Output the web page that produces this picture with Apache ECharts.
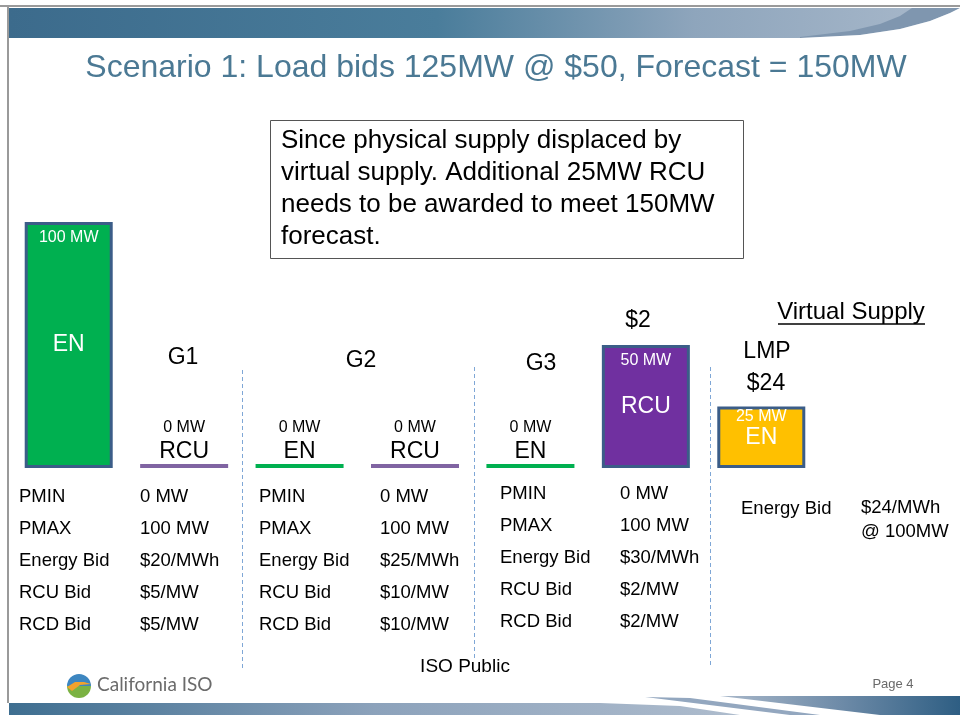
<!DOCTYPE html>
<html>
<head>
<meta charset="utf-8">
<script src="https://cdn.jsdelivr.net/npm/echarts@6/dist/echarts.min.js"></script>
<style>
  html, body { margin: 0; padding: 0; background: #fff; }
  #chart { width: 960px; height: 715px; }
</style>
</head>
<body>
<div id="chart"></div>
<script>
// awards per unit/product (MW)
const categories = ['G1 EN', 'G1 RCU', 'G2 EN', 'G2 RCU', 'G3 EN', 'G3 RCU', 'Virtual EN']
const products = ['EN', 'RCU', 'EN', 'RCU', 'EN', 'RCU', 'EN']
const awardsMW = [100, 0, 0, 0, 0, 50, 25]

const groupNames = ['G1', 'G2', 'G3']
const rowLabels = ['PMIN', 'PMAX', 'Energy Bid', 'RCU Bid', 'RCD Bid']
const g1Values = ['0 MW', '100 MW', '$20/MWh', '$5/MW', '$5/MW']
const g2Values = ['0 MW', '100 MW', '$25/MWh', '$10/MW', '$10/MW']
const g3Values = ['0 MW', '100 MW', '$30/MWh', '$2/MW', '$2/MW']
const virtualBid = ['Energy Bid', '$24/MWh', '@ 100MW']
const rcuPrice = '$2'
const lmpPrice = '$24'

const titleText = 'Scenario 1: Load bids 125MW @ $50, Forecast = 150MW'
const noteLines = [
  'Since physical supply displaced by',
  'virtual supply. Additional 25MW RCU',
  'needs to be awarded to meet 150MW',
  'forecast.'
]

const FONT = '"Liberation Sans", Arial, sans-serif'

function fillColor(i) {
  if (i === categories.length - 1) return '#FFC000'
  return products[i] === 'EN' ? '#00B050' : '#7030A0'
}
function lineColor(i) {
  return products[i] === 'EN' ? '#00B050' : '#8064A2'
}

const barData = awardsMW.map((v, i) => {
  if (v > 0) {
    return {
      value: v,
      itemStyle: { color: fillColor(i), borderColor: '#3B5D88', borderWidth: 3 },
      label: {
        show: true, position: 'insideTop', distance: v < 30 ? 2 : 8,
        formatter: v + ' MW', color: '#fff', fontSize: 16, fontFamily: FONT
      }
    }
  }
  return {
    value: v,
    itemStyle: { color: lineColor(i) },
    label: {
      show: true, position: 'top', distance: 0,
      formatter: '{a|' + v + ' MW}\n{b|' + products[i] + '}',
      rich: {
        a: { fontSize: 16, lineHeight: 22, color: '#000', fontFamily: FONT },
        b: { fontSize: 23, lineHeight: 25, color: '#000', fontFamily: FONT }
      }
    }
  }
})

const nameData = awardsMW.map((v, i) => ({
  value: v,
  label: {
    show: v > 0, position: 'inside', formatter: products[i],
    color: '#fff', fontSize: 23, fontFamily: FONT
  }
}))

function tableTexts(x1, x2, y0, values) {
  const out = []
  rowLabels.forEach((lab, r) => {
    out.push({ type: 'text', x: x1, y: y0 + r * 32,
      style: { text: lab, font: '18.5px ' + FONT, fill: '#000', verticalAlign: 'middle' } })
    out.push({ type: 'text', x: x2, y: y0 + r * 32,
      style: { text: values[r], font: '18.5px ' + FONT, fill: '#000', verticalAlign: 'middle' } })
  })
  return out
}

function dashed(x, y1, y2) {
  return { type: 'line', shape: { x1: x, y1: y1, x2: x, y2: y2 },
    style: { stroke: '#7FA7D6', lineWidth: 1, lineDash: [4, 3] }, silent: true }
}

function centerText(x, y, text, size, color) {
  return { type: 'text', x: x, y: y,
    style: { text: text, font: size + 'px ' + FONT, fill: color || '#000',
      align: 'center', verticalAlign: 'middle' } }
}

function leftText(x, y, text, size) {
  return { type: 'text', x: x, y: y,
    style: { text: text, font: size + 'px ' + FONT, fill: '#000', verticalAlign: 'middle' } }
}

const lowerCurve = [[800, 38], [860, 35], [900, 29], [930, 21], [950, 13], [960, 8]]
const upperCurve = [[800, 37], [850, 31], [880, 24], [900, 16], [912, 8]]

const graphics = [
  // slide frame and header band
  { type: 'line', shape: { x1: 0, y1: 6, x2: 960, y2: 6 }, style: { stroke: '#9a9a9a', lineWidth: 2 } },
  { type: 'line', shape: { x1: 8, y1: 6, x2: 8, y2: 703 }, style: { stroke: '#9a9a9a', lineWidth: 2 } },
  { type: 'rect', shape: { x: 9, y: 8, width: 951, height: 30 },
    style: { fill: new echarts.graphic.LinearGradient(0, 0, 1, 0, [
      { offset: 0, color: '#3C6B8C' }, { offset: 0.45, color: '#4A7D9B' },
      { offset: 0.72, color: '#8EA5BC' }, { offset: 1, color: '#A9B9CB' }]) } },
  { type: 'polygon', shape: { points: upperCurve.concat([[960, 8]], lowerCurve.slice().reverse()) },
    style: { fill: '#7F96AF' } },
  { type: 'polygon', shape: { points: lowerCurve.concat([[960, 38]]) },
    style: { fill: '#fff' } },
  // footer band
  { type: 'polygon', shape: { points: [[9, 703], [600, 703], [680, 706], [740, 715], [9, 715]] },
    style: { fill: new echarts.graphic.LinearGradient(0, 0, 1, 0, [
      { offset: 0, color: '#3E6E90' }, { offset: 0.5, color: '#8CA2BB' }, { offset: 1, color: '#AEBCCD' }]) } },
  { type: 'polygon', shape: { points: [[645, 697], [690, 698], [820, 715], [790, 715]] },
    style: { fill: '#93A7BF' } },
  { type: 'polygon', shape: { points: [[720, 696], [960, 696], [960, 715], [880, 715]] },
    style: { fill: new echarts.graphic.LinearGradient(0, 0, 1, 0, [
      { offset: 0, color: '#A9B8CA' }, { offset: 0.5, color: '#6E8BA8' }, { offset: 1, color: '#2E5E83' }]) } },
  // title
  centerText(496, 68, titleText, 32, '#4B7994'),
  // note box
  { type: 'rect', shape: { x: 270.5, y: 120.5, width: 473, height: 138 },
    style: { fill: '#fff', stroke: '#555', lineWidth: 1 } },
  // group labels
  centerText(183, 358, groupNames[0], 23),
  centerText(361, 361, groupNames[1], 23),
  centerText(541, 364, groupNames[2], 23),
  centerText(638, 321, rcuPrice, 23),
  centerText(767, 352, 'LMP', 23),
  centerText(766, 384, lmpPrice, 23),
  centerText(851, 312, 'Virtual Supply', 24),
  { type: 'line', shape: { x1: 778, y1: 324, x2: 925, y2: 324 }, style: { stroke: '#000', lineWidth: 1.3 } },
  // separators
  dashed(242.5, 370, 670),
  dashed(474.5, 367, 660),
  dashed(710.5, 367, 666),
  // virtual bid
  leftText(741, 509, virtualBid[0], 18.5),
  leftText(861, 508, virtualBid[1], 18.5),
  leftText(861, 532, virtualBid[2], 18.5),
  // footer texts
  centerText(465, 667, 'ISO Public', 19),
  centerText(893, 684, 'Page 4', 13, '#6a6a6a'),
  { type: 'text', left: 97, top: 675, style: { text: 'California ISO', font: '19px Lato, "Open Sans", sans-serif', fill: '#6b6b6b' } },
  // logo
  { type: 'sector', shape: { cx: 79, cy: 686, r: 12, startAngle: Math.PI, endAngle: 2 * Math.PI },
    style: { fill: '#3D86C0' } },
  { type: 'sector', shape: { cx: 79, cy: 686, r: 12, startAngle: 0, endAngle: Math.PI },
    style: { fill: '#7BB243' } },
  { type: 'polygon', shape: { points: [[67, 687], [75, 682], [84, 682], [91, 684], [80, 685], [72, 691]] },
    style: { fill: '#F2A22C' } }
]

noteLines.forEach((t, k) => {
  graphics.push(leftText(281, 141 + k * 32, t, 26))
})
graphics.push(...tableTexts(19, 140, 497, g1Values))
graphics.push(...tableTexts(259, 380, 497, g2Values))
graphics.push(...tableTexts(500, 620, 494, g3Values))

const chart = echarts.init(document.getElementById('chart'), null, { renderer: 'canvas' })
chart.setOption({
  animation: false,
  backgroundColor: '#fff',
  grid: { left: 11, right: 141, top: 222, bottom: 247 },
  xAxis: { type: 'category', data: categories, show: false },
  yAxis: { type: 'value', min: 0, max: 100, show: false },
  series: [
    { type: 'bar', data: barData, barWidth: 88, barMinHeight: 4, z: 2 },
    { type: 'bar', data: nameData, barWidth: 88, barGap: '-100%', silent: true, z: 3,
      itemStyle: { color: 'rgba(0,0,0,0)' } }
  ],
  graphic: graphics
})
</script>
</body>
</html>
